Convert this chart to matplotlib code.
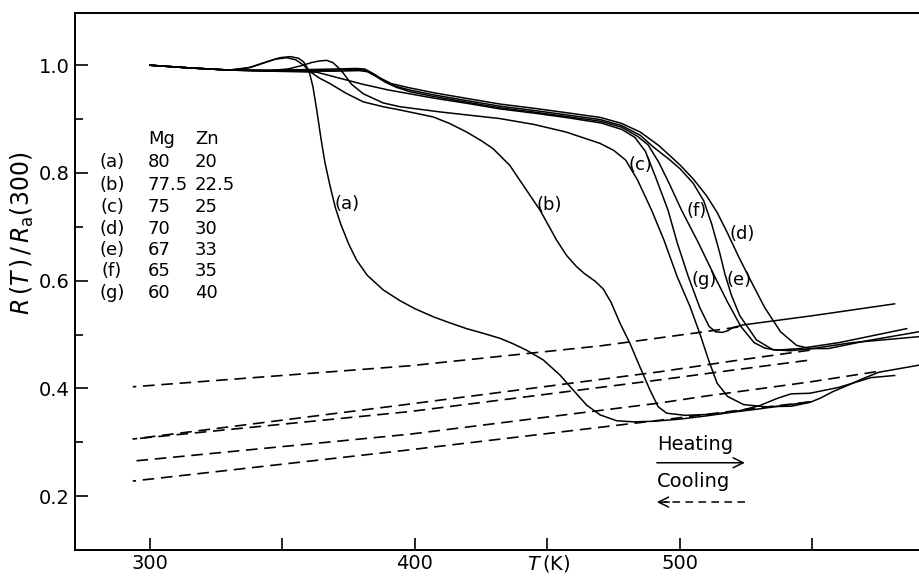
import matplotlib.pyplot as plt
from matplotlib.ticker import FixedLocator, NullFormatter

plt.rcParams['font.family'] = ['DejaVu Sans']
plt.rcParams['mathtext.fontset'] = 'dejavusans'

# heating runs (solid lines): temperature T (K) and R(T)/Ra(300)
t_a = [300, 315, 330, 338, 344, 349, 353, 356, 358, 360, 361.5, 363, 364.5, 366, 368, 370,
       372, 375, 378, 382, 388, 394.3, 400, 406.9, 413, 419.5, 426, 432.1, 437, 442.1, 448.4,
       454.7, 459.7, 464.8, 469.8, 476.1, 482.4, 490, 500, 510, 520, 530, 540, 549]
r_a = [1.0, 0.995, 0.991, 0.996, 1.006, 1.014, 1.016, 1.013, 1.006, 0.99, 0.96, 0.915, 0.865,
       0.82, 0.775, 0.735, 0.705, 0.668, 0.638, 0.61, 0.583, 0.563, 0.548, 0.533, 0.522, 0.511,
       0.502, 0.493, 0.483, 0.471, 0.453, 0.425, 0.397, 0.369, 0.351, 0.340, 0.338, 0.339,
       0.343, 0.349, 0.356, 0.362, 0.369, 0.375]

t_b = [300, 315, 330, 337, 342, 347, 351.6, 355, 358, 360.4, 364, 367.9, 374, 380.5, 388,
       394.3, 406.9, 413, 419.5, 425, 429.5, 435.8, 442.1, 447.2, 453.5, 457.2, 461, 464,
       468, 471, 474, 477.4, 481.1, 484.9, 488.7, 491.8, 495, 502, 512, 522, 530, 537, 542,
       549, 560, 572, 581]
r_b = [1.0, 0.995, 0.991, 0.995, 1.003, 1.011, 1.014, 1.010, 1.0, 0.988, 0.976, 0.966, 0.948,
       0.932, 0.923, 0.917, 0.904, 0.892, 0.876, 0.860, 0.845, 0.814, 0.768, 0.731, 0.675,
       0.647, 0.626, 0.613, 0.599, 0.585, 0.560, 0.521, 0.484, 0.440, 0.397, 0.366, 0.354,
       0.350, 0.352, 0.358, 0.368, 0.382, 0.390, 0.391, 0.402, 0.420, 0.424]

t_c = [300, 315, 330, 345, 352, 357, 361, 364, 366.7, 369, 371, 373, 376, 380.5, 388, 394.3,
       410, 432, 445, 457, 469.8, 475, 479.5, 484, 489.3, 494, 499, 503.8, 507.5, 511, 514,
       518, 524, 532, 542, 549, 553, 557.7, 563, 568, 575, 590]
r_c = [1.0, 0.995, 0.991, 0.99, 0.993, 0.999, 1.005, 1.008, 1.009, 1.005, 0.996, 0.985, 0.965,
       0.947, 0.930, 0.923, 0.913, 0.901, 0.890, 0.876, 0.855, 0.842, 0.824, 0.787, 0.731,
       0.675, 0.607, 0.552, 0.502, 0.450, 0.410, 0.385, 0.370, 0.366, 0.367, 0.374, 0.382,
       0.394, 0.405, 0.416, 0.430, 0.443]

t_d = [300, 315, 330, 345, 360, 370, 378, 381, 384, 387, 391, 398, 407, 420, 432, 445, 457,
       470, 478, 485, 492, 500, 505, 510, 514, 518, 522, 526, 532, 538, 544, 549, 556, 570,
       590]
r_d = [1.0, 0.995, 0.991, 0.991, 0.992, 0.993, 0.994, 0.993, 0.985, 0.976, 0.966, 0.958,
       0.949, 0.938, 0.928, 0.920, 0.912, 0.903, 0.892, 0.876, 0.851, 0.815, 0.789, 0.758,
       0.727, 0.688, 0.646, 0.607, 0.550, 0.505, 0.480, 0.474, 0.474, 0.488, 0.505]

t_e = [300, 315, 330, 345, 360, 370, 379, 382, 385, 388, 392, 398, 407, 420, 432, 445, 457,
       470, 478, 485, 490, 496, 500, 505, 509, 512, 515, 517, 519.5, 522.6, 528.9, 535, 541.5,
       550, 565, 590]
r_e = [1.0, 0.995, 0.991, 0.99, 0.99, 0.991, 0.992, 0.99, 0.982, 0.972, 0.962, 0.954, 0.945,
       0.934, 0.924, 0.916, 0.908, 0.899, 0.888, 0.870, 0.848, 0.825, 0.808, 0.781, 0.748,
       0.705, 0.652, 0.612, 0.572, 0.535, 0.490, 0.472, 0.470, 0.474, 0.485, 0.496]

t_f = [300, 315, 330, 345, 360, 370, 379, 382, 385, 389, 393, 398, 407, 420, 432, 445, 457,
       470, 478, 484, 488, 492, 496, 500.6, 507, 513.2, 518, 523, 528, 532, 536.5, 545, 560,
       585.6]
r_f = [1.0, 0.995, 0.991, 0.989, 0.989, 0.989, 0.99, 0.988, 0.98, 0.968, 0.959, 0.951, 0.942,
       0.931, 0.921, 0.913, 0.905, 0.896, 0.885, 0.868, 0.852, 0.820, 0.780, 0.731, 0.670,
       0.607, 0.560, 0.515, 0.485, 0.475, 0.471, 0.474, 0.485, 0.511]

t_g = [300, 315, 330, 345, 355, 363, 370, 380, 390, 398, 407, 420, 432, 445, 457, 470, 478,
       483, 487, 491, 495.5, 499, 503.2, 507.5, 511, 513.5, 516, 518, 520, 524, 550, 581]
r_g = [1.0, 0.995, 0.991, 0.989, 0.988, 0.987, 0.978, 0.965, 0.954, 0.947, 0.939, 0.929,
       0.919, 0.911, 0.903, 0.893, 0.881, 0.866, 0.840, 0.790, 0.731, 0.670, 0.607, 0.550,
       0.515, 0.505, 0.504, 0.507, 0.513, 0.518, 0.535, 0.557]

# cooling runs (dashed lines)
cool_t_1 = [522, 507.5, 470, 398, 293.5]
cool_r_1 = [0.514, 0.504, 0.479, 0.442, 0.403]
cool_t_2 = [549, 520, 492.5, 398, 293.5]
cool_r_2 = [0.471, 0.451, 0.431, 0.371, 0.306]
cool_t_3 = [548, 520, 492.5, 398, 293.5]
cool_r_3 = [0.452, 0.434, 0.416, 0.357, 0.306]
cool_t_4 = [574, 549, 510, 492.5, 398, 293.5]
cool_r_4 = [0.431, 0.412, 0.386, 0.373, 0.315, 0.265]
cool_t_5 = [549, 520, 492.5, 398, 293.5]
cool_r_5 = [0.375, 0.358, 0.341, 0.286, 0.228]

# composition table
row_ids = ['(a)', '(b)', '(c)', '(d)', '(e)', '(f)', '(g)']
mg = ['80', '77.5', '75', '70', '67', '65', '60']
zn = ['20', '22.5', '25', '30', '33', '35', '40']

heating = [(t_a, r_a), (t_b, r_b), (t_c, r_c), (t_d, r_d), (t_e, r_e), (t_f, r_f), (t_g, r_g)]
cooling = [(cool_t_1, cool_r_1), (cool_t_2, cool_r_2), (cool_t_3, cool_r_3),
           (cool_t_4, cool_r_4), (cool_t_5, cool_r_5)]

# curve label positions (T, R)
label_pos = {'(a)': (374.5, 0.742), '(b)': (450.5, 0.740), '(c)': (485.0, 0.815),
             '(d)': (523.5, 0.687), '(e)': (522.5, 0.601), '(f)': (506.3, 0.729),
             '(g)': (509.0, 0.601)}

fig = plt.figure(figsize=(9.2, 5.76), dpi=100)
ax = fig.add_axes([0.0815, 0.0451, 0.9185, 0.9319])

for t, r in heating:
    ax.plot(t, r, color='black', lw=1.1, solid_joinstyle='round')
for t, r in cooling:
    ax.plot(t, r, color='black', lw=1.2, dashes=(7, 4))

for name, (x, y) in label_pos.items():
    ax.text(x, y, name, fontsize=13, ha='center', va='center')

# composition table
ax.text(299.2, 0.863, 'Mg', fontsize=13, ha='left', va='center')
ax.text(317.0, 0.863, 'Zn', fontsize=13, ha='left', va='center')
row_y = [0.820, 0.777, 0.737, 0.696, 0.657, 0.618, 0.577]
for i, (rid, m, z) in enumerate(zip(row_ids, mg, zn)):
    ax.text(285.7, row_y[i], rid, fontsize=13, ha='center', va='center')
    ax.text(299.2, row_y[i], m, fontsize=13, ha='left', va='center')
    ax.text(317.0, row_y[i], z, fontsize=13, ha='left', va='center')

# heating / cooling key
ax.text(491.3, 0.295, 'Heating', fontsize=14, ha='left', va='center')
ax.annotate('', xy=(524.5, 0.262), xytext=(491.3, 0.262),
            arrowprops=dict(arrowstyle='->', lw=1.1, color='black',
                            mutation_scale=18, shrinkA=0, shrinkB=0))
ax.text(491.3, 0.228, 'Cooling', fontsize=14, ha='left', va='center')
ax.plot([524.5, 494.0], [0.189, 0.189], color='black', lw=1.1, dashes=(5, 3.5))
ax.annotate('', xy=(491.3, 0.189), xytext=(496.0, 0.189),
            arrowprops=dict(arrowstyle='->', lw=1.1, color='black',
                            mutation_scale=18, shrinkA=0, shrinkB=0))

ax.set_xlim(271.7, 590.6)
ax.set_ylim(0.1, 1.0965)

ax.xaxis.set_major_locator(FixedLocator([300, 400, 500]))
ax.xaxis.set_minor_locator(FixedLocator([350, 450, 550]))
ax.yaxis.set_major_locator(FixedLocator([0.2, 0.4, 0.6, 0.8, 1.0]))
ax.yaxis.set_minor_locator(FixedLocator([0.3, 0.5, 0.7, 0.9]))
ax.yaxis.set_minor_formatter(NullFormatter())
ax.set_yticklabels(['0.2', '0.4', '0.6', '0.8', '1.0'])

ax.tick_params(axis='both', which='both', direction='in', width=1.2, labelsize=14)
ax.tick_params(axis='x', which='both', length=9, pad=3)
ax.tick_params(axis='y', which='major', length=9, pad=4)
ax.tick_params(axis='y', which='minor', length=6)

ax.spines['right'].set_visible(False)
for s in ['left', 'bottom', 'top']:
    ax.spines[s].set_linewidth(1.4)

ax.set_ylabel(r'$R\,(T\,)\,/\,R_{\mathrm{a}}(300)$', fontsize=17)
ax.yaxis.set_label_coords(-0.046, 0.59)
fig.text(549 / 920, 1 - 564 / 576, r'$T\,(\mathrm{K})$', fontsize=14, ha='center', va='center')

fig.savefig('out.png', dpi=100)
